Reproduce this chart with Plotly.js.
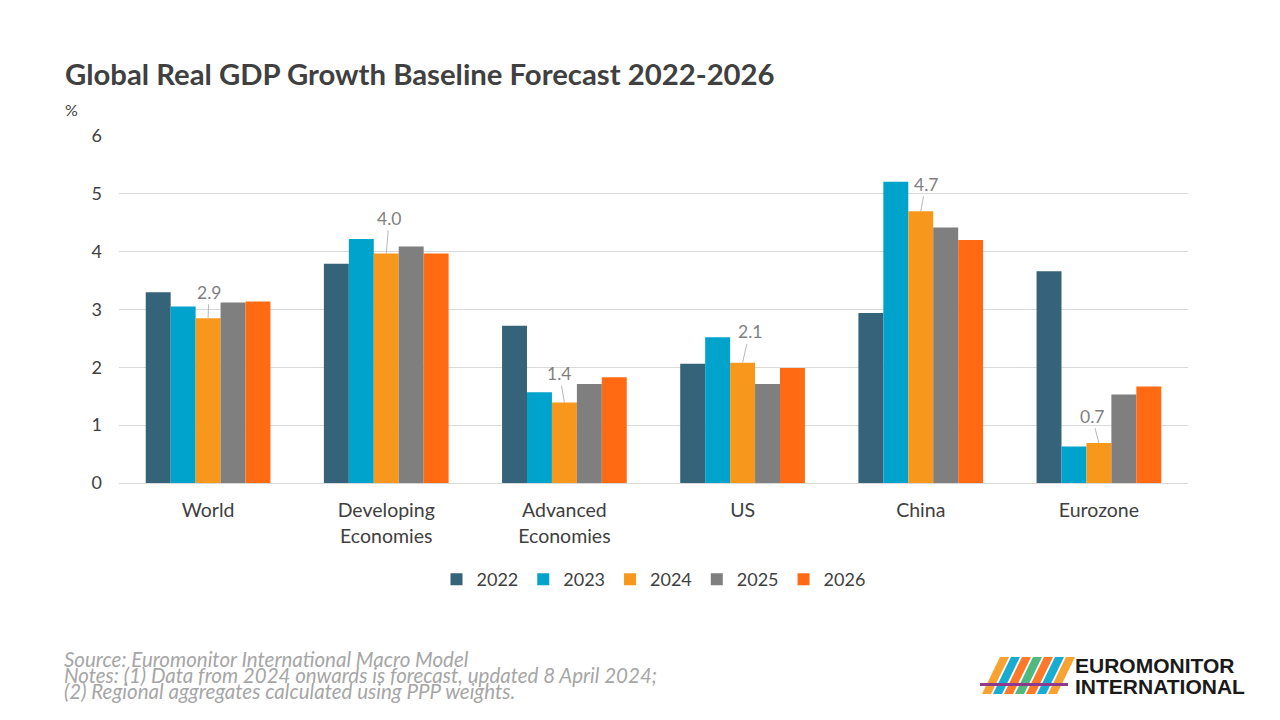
<!DOCTYPE html>
<html>
<head>
<meta charset="utf-8">
<script src="https://cdn.plot.ly/plotly-3.0.1.min.js"></script>
<style>
html,body{margin:0;padding:0;background:#fff;}
#chart{width:1280px;height:720px;}
</style>
</head>
<body>
<div id="chart"></div>
<script>
const categories = ["World", "Developing<br>Economies", "Advanced<br>Economies", "US", "China", "Eurozone"];
const years = ["2022", "2023", "2024", "2025", "2026"];
const growth2022 = [3.30, 3.79, 2.72, 2.06, 2.94, 3.66];
const growth2023 = [3.05, 4.22, 1.57, 2.52, 5.21, 0.63];
const growth2024 = [2.85, 3.97, 1.39, 2.08, 4.70, 0.69];
const growth2025 = [3.12, 4.09, 1.71, 1.71, 4.42, 1.53];
const growth2026 = [3.14, 3.97, 1.83, 1.99, 4.20, 1.67];
const yTicks = [0, 1, 2, 3, 4, 5, 6];

const seriesValues = [growth2022, growth2023, growth2024, growth2025, growth2026];
const colors = ["#35637a", "#00a3cc", "#f7981d", "#7f7f7f", "#ff6a13"];

const traces = years.map((y, i) => ({
  type: "bar",
  name: y,
  x: categories,
  y: seriesValues[i],
  marker: {color: colors[i], line: {width: 0}},
  hoverinfo: "x+y+name"
}));

// label offsets for 2024 data labels (pixels)
const labelOffsets = [[1, -26], [3, -35], [-5, -29], [7, -31], [5, -27], [-7, -27]];
const annotations = categories.map((c, i) => ({
  x: c, y: growth2024[i], xref: "x", yref: "y",
  text: growth2024[i].toFixed(1),
  showarrow: true, arrowhead: 0, arrowwidth: 0.8, arrowcolor: "#a6a6a6",
  ax: labelOffsets[i][0], ay: labelOffsets[i][1], standoff: 0,
  font: {family: "Lato", size: 17.5, color: "#7f7f7f"}
}));

annotations.push({
  xref: "paper", yref: "paper", x: -0.052, y: 1.075, xanchor: "left", yanchor: "middle",
  text: "%", showarrow: false, font: {family: "Lato", size: 16, color: "#404040"}
});

const footer = [
  "Source: Euromonitor International Macro Model",
  "Notes: (1) Data from 2024 onwards is forecast, updated 8 April 2024;",
  "(2) Regional aggregates calculated using PPP weights."
];
footer.forEach((t, i) => {
  annotations.push({
    xref: "paper", yref: "paper", x: (62 - 119) / 1069, xanchor: "left",
    y: (483 - (659 + i * 16)) / 347, yanchor: "middle",
    text: "<i>" + t + "</i>", showarrow: false,
    font: {family: "Lato", size: 20.5, color: "#a6a6a6"}
  });
});

annotations.push({
  xref: "paper", yref: "paper", x: (1073 - 119) / 1069, y: (483 - 665) / 347,
  xanchor: "left", yanchor: "middle", showarrow: false,
  text: "<b>EUROMONITOR</b>", font: {family: "Liberation Sans", size: 21, color: "#1a1a1a"}
});
annotations.push({
  xref: "paper", yref: "paper", x: (1073 - 119) / 1069, y: (483 - 686) / 347,
  xanchor: "left", yanchor: "middle", showarrow: false,
  text: "<b>INTERNATIONAL</b>", font: {family: "Liberation Sans", size: 21, color: "#1a1a1a"}
});

// logo decoration
const logoShapes = [];
const stripeColors = ["#f7981d", "#00a3cc", "#ff6a13", "#3bb273", "#ff6a13", "#00a3cc", "#f7981d"];
stripeColors.forEach((col, i) => {
  const x0 = 982 + i * 11;
  logoShapes.push({
    type: "path", xref: "paper", yref: "paper", layer: "above",
    path: `M ${(x0 - 119) / 1069} ${(483 - 694) / 347} L ${(x0 + 9 - 119) / 1069} ${(483 - 694) / 347} L ${(x0 + 27 - 119) / 1069} ${(483 - 657) / 347} L ${(x0 + 18 - 119) / 1069} ${(483 - 657) / 347} Z`,
    fillcolor: col, line: {width: 0}, opacity: 0.9
  });
});
logoShapes.push({
  type: "rect", xref: "paper", yref: "paper", layer: "above",
  x0: (980 - 119) / 1069, x1: (1068 - 119) / 1069,
  y0: (483 - 686) / 347, y1: (483 - 683) / 347,
  fillcolor: "#8e3b8e", line: {width: 0}
});

const layout = {
  width: 1280, height: 720,
  paper_bgcolor: "#ffffff", plot_bgcolor: "#ffffff",
  margin: {l: 119, r: 92, t: 136, b: 237},
  title: {
    text: "<b>Global Real GDP Growth Baseline Forecast 2022-2026</b>",
    x: 65 / 1280, xanchor: "left", xref: "container",
    y: 1 - 75 / 720, yanchor: "middle", yref: "container",
    font: {family: "Lato", size: 29.3, color: "#404040"}
  },
  font: {family: "Lato", color: "#404040"},
  barmode: "group", bargap: 0.3, bargroupgap: 0,
  xaxis: {
    type: "category", showgrid: false, showline: true, linecolor: "#d9d9d9", linewidth: 1,
    ticks: "", ticklabelstandoff: 10,
    tickfont: {family: "Lato", size: 19.5, color: "#404040"}, automargin: false
  },
  yaxis: {
    range: [0, 6], tickvals: yTicks, ticktext: yTicks.map(String),
    showgrid: true, gridcolor: "#d9d9d9", gridwidth: 1, zeroline: false,
    showline: false, ticks: "", ticklen: 0, ticklabelstandoff: 16,
    tickfont: {family: "Lato", size: 18, color: "#404040"}, automargin: false
  },
  legend: {
    orientation: "h", x: 0.5, xanchor: "center", y: -0.225, yanchor: "top",
    font: {family: "Lato", size: 18, color: "#404040"}, traceorder: "normal",
    itemwidth: 30
  },
  showlegend: true,
  annotations: annotations,
  shapes: logoShapes
};

Plotly.newPlot("chart", traces, layout, {displayModeBar: false, staticPlot: true});
</script>
</body>
</html>
